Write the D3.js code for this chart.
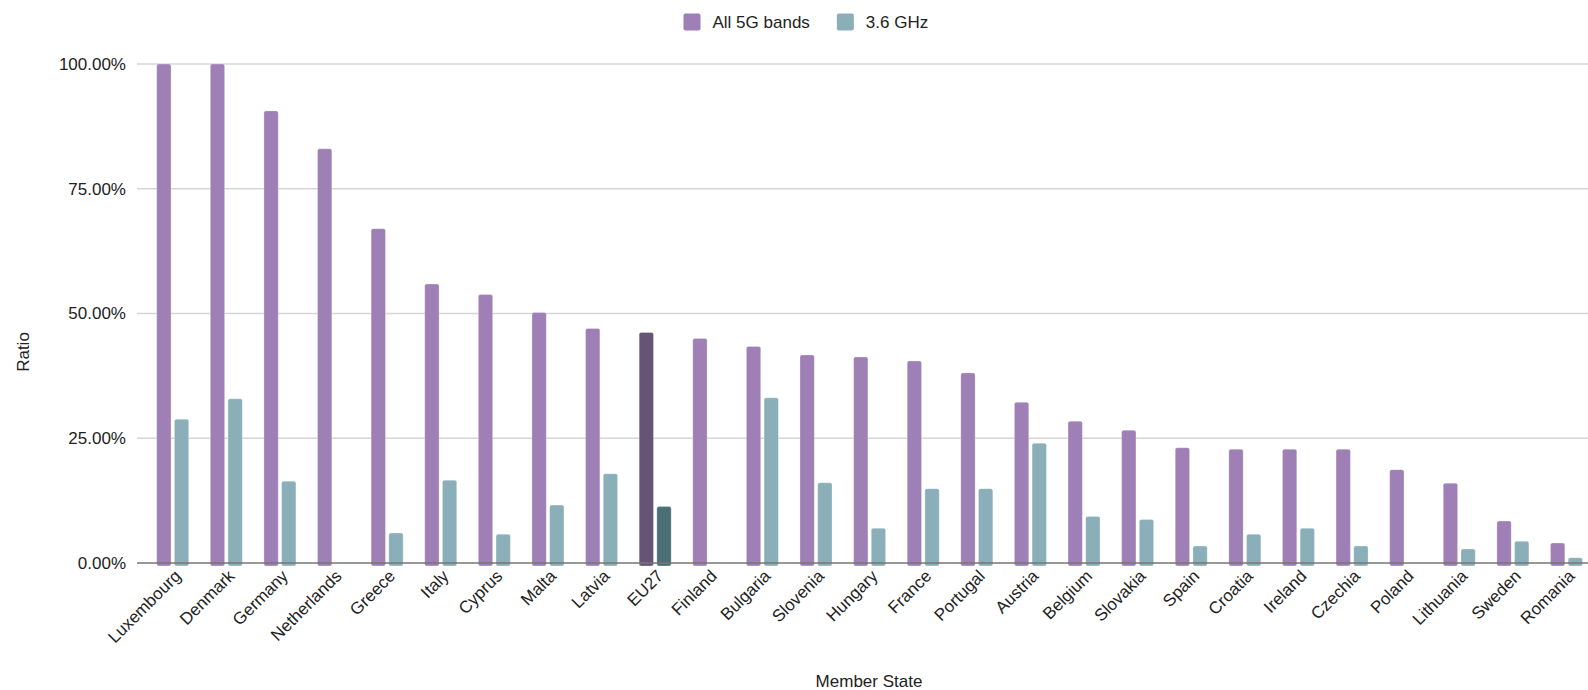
<!DOCTYPE html>
<html>
<head>
<meta charset="utf-8">
<script src="https://cdn.jsdelivr.net/npm/d3@7"></script>
<style>
  html, body { margin: 0; padding: 0; background: #fff; }
  svg { display: block; font-family: "Liberation Sans", Arial, sans-serif; }
</style>
</head>
<body>
<svg id="chart" width="1588" height="690"></svg>
<script>
// Share of sites / coverage ratio per Member State
const categories = ["Luxembourg", "Denmark", "Germany", "Netherlands", "Greece", "Italy", "Cyprus",
  "Malta", "Latvia", "EU27", "Finland", "Bulgaria", "Slovenia", "Hungary", "France", "Portugal",
  "Austria", "Belgium", "Slovakia", "Spain", "Croatia", "Ireland", "Czechia", "Poland",
  "Lithuania", "Sweden", "Romania"];

// Values in percent
const allBands = [100, 100, 90.6, 83.0, 67.0, 55.9, 53.8, 50.2, 47.0, 46.2, 45.0, 43.4, 41.7, 41.3,
  40.5, 38.1, 32.2, 28.4, 26.6, 23.1, 22.8, 22.8, 22.8, 18.7, 16.0, 8.4, 4.0];
const ghz36 = [28.8, 32.9, 16.4, 0, 6.0, 16.6, 5.75, 11.6, 17.9, 11.3, 0, 33.1, 16.1, 6.95,
  14.9, 14.9, 24.0, 9.3, 8.7, 3.4, 5.75, 6.95, 3.4, 0, 2.8, 4.35, 1.06];

const seriesNames = ["All 5G bands", "3.6 GHz"];
const seriesColors = ["#9e7fb6", "#8aafb8"];
const highlightColors = ["#655475", "#4a7076"];
const highlight = "EU27";

const yTicks = [0, 25, 50, 75, 100];
const yTitle = "Ratio";
const xTitle = "Member State";

const svg = d3.select("#chart");

const x = d3.scaleBand()
  .domain(categories)
  .range([145.9, 1593.3])
  .paddingInner(0.403)
  .paddingOuter(0.2015);

const x1 = d3.scaleBand()
  .domain(seriesNames)
  .range([0, x.bandwidth()])
  .paddingInner(0.19);

const y = d3.scaleLinear().domain([0, 100]).range([563, 64]);

const gridLeft = 137, gridRight = 1588;

// Horizontal gridlines
svg.append("g")
  .selectAll("line")
  .data(yTicks.filter(t => t > 0))
  .join("line")
  .attr("x1", gridLeft).attr("x2", gridRight)
  .attr("y1", d => y(d)).attr("y2", d => y(d))
  .attr("stroke", "#d6d6d6")
  .attr("stroke-width", 1.3);

// Y axis labels
const yAxis = d3.axisLeft(y)
  .tickValues(yTicks)
  .tickSize(0)
  .tickPadding(0)
  .tickFormat(d => d.toFixed(2) + "%");

svg.append("g")
  .attr("transform", `translate(126,0)`)
  .call(yAxis)
  .call(g => g.select(".domain").remove())
  .call(g => g.selectAll("text")
    .attr("font-size", 17)
    .attr("fill", "#222")
    .attr("font-family", "'Liberation Sans', Arial, sans-serif"));

// Bars
const rows = categories.map((c, i) => ({ cat: c, vals: [allBands[i], ghz36[i]] }));

const groups = svg.append("g")
  .selectAll("g")
  .data(rows)
  .join("g")
  .attr("transform", d => `translate(${x(d.cat)},0)`);

groups.selectAll("rect")
  .data(d => d.vals.map((v, k) => ({ cat: d.cat, v, k })).filter(e => e.v > 0))
  .join("rect")
  .attr("x", e => x1(seriesNames[e.k]))
  .attr("width", x1.bandwidth())
  .attr("y", e => y(e.v))
  .attr("height", e => y(0) - y(e.v) + 3)
  .attr("rx", 2)
  .attr("fill", e => (e.cat === highlight ? highlightColors : seriesColors)[e.k])
  .attr("stroke", "rgba(255,255,255,0.35)")
  .attr("stroke-width", 0.8);

// Baseline
svg.append("line")
  .attr("x1", gridLeft).attr("x2", gridRight)
  .attr("y1", y(0)).attr("y2", y(0))
  .attr("stroke", "#767676")
  .attr("stroke-width", 1.6);

// Category labels, rotated
const xAxis = svg.append("g");
xAxis.selectAll("text")
  .data(categories)
  .join("text")
  .attr("transform", d => `translate(${x(d) + x.bandwidth() / 2},568) rotate(-45)`)
  .attr("dy", "0.76em")
  .attr("text-anchor", "end")
  .attr("font-size", 17)
  .attr("fill", "#222")
  .text(d => d);

// Axis titles
svg.append("text")
  .attr("transform", "translate(29,352) rotate(-90)")
  .attr("text-anchor", "middle")
  .attr("font-size", 17)
  .attr("fill", "#222")
  .text(yTitle);

svg.append("text")
  .attr("x", 869)
  .attr("y", 687)
  .attr("text-anchor", "middle")
  .attr("font-size", 17)
  .attr("fill", "#222")
  .text(xTitle);

// Legend
const legend = svg.append("g");
let lx = 683.5;
seriesNames.forEach((name, k) => {
  legend.append("rect")
    .attr("x", lx).attr("y", 13.5)
    .attr("width", 17).attr("height", 17)
    .attr("rx", 2)
    .attr("fill", seriesColors[k]);
  const t = legend.append("text")
    .attr("x", lx + 29)
    .attr("y", 27.5)
    .attr("font-size", 17)
    .attr("fill", "#222")
    .text(name);
  lx = lx + 29 + t.node().getComputedTextLength() + 27;
});
</script>
</body>
</html>
